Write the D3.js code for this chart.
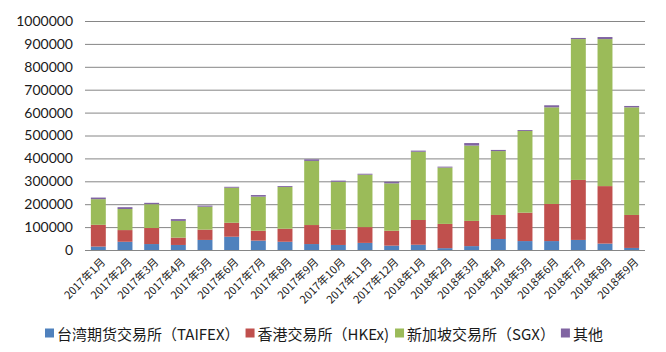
<!DOCTYPE html>
<html>
<head>
<meta charset="utf-8">
<script src="https://cdn.jsdelivr.net/npm/d3@7"></script>
<style>
	body { margin: 0; background: #fff; }
	.axis text { font-family: Lato, "Noto Sans CJK SC", sans-serif; }
</style>
</head>
<body>
<div id="chart"></div>
<script>

// months on the x axis
var months = ['2017年1月','2017年2月','2017年3月','2017年4月','2017年5月','2017年6月','2017年7月',
	'2017年8月','2017年9月','2017年10月','2017年11月','2017年12月','2018年1月','2018年2月',
	'2018年3月','2018年4月','2018年5月','2018年6月','2018年7月','2018年8月','2018年9月'];

var taifex = [15000,36000,26000,22000,44000,58000,41000,36000,26000,22000,31000,19000,23000,8000,17000,48000,39000,39000,44000,28000,9000];
var hkex   = [95000,51000,70000,32000,45000,61000,43000,57000,83000,67000,69000,65000,108000,106000,110000,105000,124000,162000,262000,251000,144000];
var sgx    = [112000,92000,104000,73000,100000,153000,149000,182000,280000,209000,229000,207000,298000,246000,329000,279000,357000,422000,615000,642000,470000];
var other  = [7000,8000,6000,8000,5000,4000,7000,4000,7000,5000,4000,7000,5000,4000,11000,5000,4000,9000,5000,9000,6000];

var seriesNames = ['台湾期货交易所（TAIFEX）','香港交易所（HKEx)','新加坡交易所（SGX）','其他'];
var seriesColors = ['#4F81BD','#C0504D','#9BBB59','#8064A2'];
var yTicks = [0,100000,200000,300000,400000,500000,600000,700000,800000,900000,1000000];

function drawGraphic(){

	var width = 666, height = 352;
	var margin = {left: 85, right: 21, top: 21, bottom: 102};

	var svg = d3.select('#chart').append('svg')
		.attr('width', width)
		.attr('height', height);

	var keys = ['taifex','hkex','sgx','other'];
	var rows = months.map(function(m, i){
		return {month: m, taifex: taifex[i], hkex: hkex[i], sgx: sgx[i], other: other[i]};
	});
	var stacked = d3.stack().keys(keys)(rows);

	var xScale = d3.scaleBand().domain(months)
			.range([margin.left, width - margin.right])
			.paddingInner(0.44).paddingOuter(0.22),
		yScale = d3.scaleLinear().domain([0,1000000]).range([height - margin.bottom, margin.top]);

	// y axis with gridlines
	var yAxis = svg.append('g').attr('class','axis')
		.attr('transform','translate(' + margin.left + ',0)')
		.call(d3.axisLeft(yScale).tickValues(yTicks)
			.tickSize(-(width - margin.left - margin.right))
			.tickPadding(12)
			.tickFormat(d3.format('d')));
	yAxis.select('.domain').remove();
	yAxis.selectAll('line').attr('stroke','#868686');
	yAxis.selectAll('text').attr('fill','#1a1a1a').style('font-size','14px');

	// bars
	svg.selectAll('.series')
		.data(stacked).enter().append('g')
		.attr('class','series')
		.attr('fill', function(d, i){ return seriesColors[i]; })
		.selectAll('rect')
		.data(function(d){ return d; }).enter().append('rect')
		.attr('x', function(d){ return xScale(d.data.month); })
		.attr('width', xScale.bandwidth())
		.attr('y', function(d){ return yScale(d[1]); })
		.attr('height', function(d){ return yScale(d[0]) - yScale(d[1]); });

	// x labels
	svg.append('g').attr('class','axis')
		.selectAll('text')
		.data(months).enter().append('text')
		.attr('transform', function(d){
			return 'translate(' + (xScale(d) + xScale.bandwidth()/2 + 5) + ',' + (yScale(0) + 10) + ') rotate(-45)';
		})
		.attr('text-anchor','end')
		.attr('dy','0.35em')
		.attr('fill','#1a1a1a')
		.style('font-size','11px')
		.style('font-family','"Noto Sans CJK SC", sans-serif')
		.text(function(d){ return d; });

	// legend
	var legend = svg.append('g').attr('class','legend');
	var lx = 45, ly = 333;
	seriesNames.forEach(function(name, i){
		legend.append('rect')
			.attr('x', lx).attr('y', ly - 4.5)
			.attr('width', 9).attr('height', 9)
			.attr('fill', seriesColors[i]);
		var t = legend.append('text')
			.attr('x', lx + 12).attr('y', ly)
			.attr('dominant-baseline','central')
			.attr('fill','#1a1a1a')
			.style('font-size','15px')
			.style('font-family','"Noto Sans CJK SC", sans-serif')
			.text(name);
		lx = lx + 12 + t.node().getComputedTextLength() + 6;
	});

}

drawGraphic();
</script>
</body>
</html>
